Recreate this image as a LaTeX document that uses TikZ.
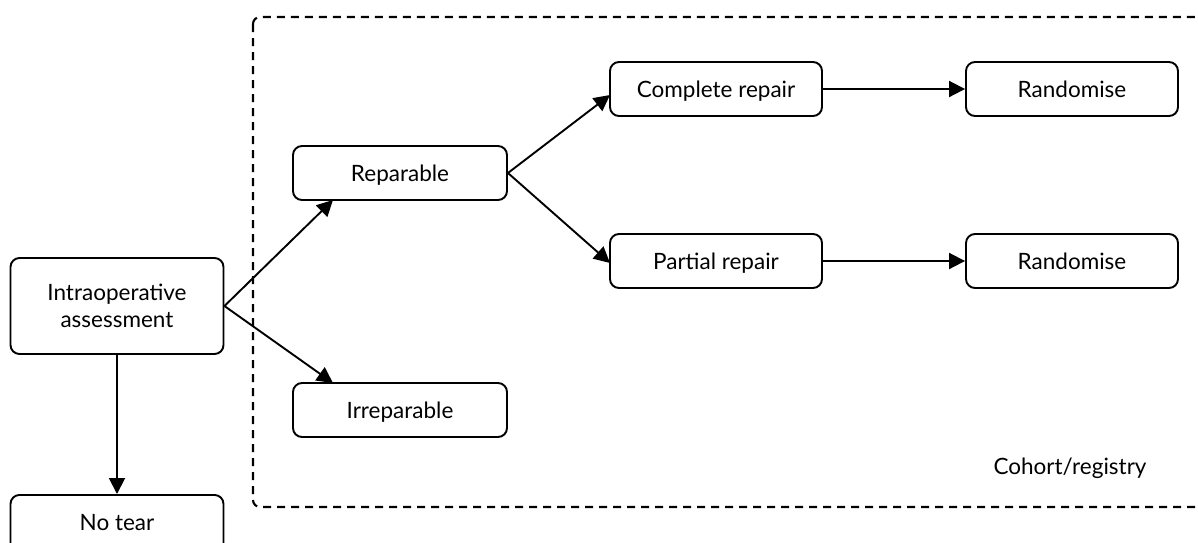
\documentclass[tikz,border=0pt]{standalone}
\usepackage{fontspec}
\setmainfont{Lato}
\usetikzlibrary{arrows.meta}
\begin{document}
\begin{tikzpicture}[x=1pt,y=-1pt,
  lbl/.style={font=\fontsize{22.5}{27}\selectfont},
  box/.style={draw,line width=1.9pt,rounded corners=9pt,align=center,inner sep=0pt,lbl},
  one/.style={text height=16pt,text depth=0pt},
  arr/.style={line width=1.9pt,-{Triangle[length=16pt,width=16pt]}}]
\useasboundingbox (0,0) rectangle (1198,542);
\draw[line width=2.1pt,dash pattern=on 8pt off 6pt,rounded corners=7pt] (253,17) rectangle (1215,507);
\node[box,minimum width=213pt,minimum height=96pt] (io) at (117,306) {Intraoperative\\assessment};
\node[box,minimum width=213pt,minimum height=70pt,anchor=north] (nt) at (117,494) {};
\node[lbl,one] (ntl) at (117,522) {No tear};
\node[box,one,minimum width=214pt,minimum height=54pt] (rep) at (400,173) {Reparable};
\node[box,one,minimum width=214pt,minimum height=54pt] (irr) at (400,410) {Irreparable};
\node[box,one,minimum width=212pt,minimum height=54pt] (cr) at (716,89) {Complete repair};
\node[box,one,minimum width=212pt,minimum height=54pt] (pr) at (716,261) {Partial repair};
\node[box,one,minimum width=212pt,minimum height=54pt] (r1) at (1072,89) {Randomise};
\node[box,one,minimum width=212pt,minimum height=54pt] (r2) at (1072,261) {Randomise};
\node[lbl,one] (coh) at (1070,466) {Cohort/registry};
\coordinate (ioe) at (io.east);
\coordinate (t1) at (333,200);
\coordinate (t2) at (333,383);
\coordinate (t3) at (610,95);
\coordinate (t4) at (610,263);
\draw[arr] (ioe) -- (t1);
\draw[arr] (ioe) -- (t2);
\draw[arr] (io.south) -- (nt.north);
\draw[arr] (rep.east) -- (t3);
\draw[arr] (rep.east) -- (t4);
\draw[arr] (cr.east) -- (r1.west);
\draw[arr] (pr.east) -- (r2.west);
\end{tikzpicture}
\end{document}
